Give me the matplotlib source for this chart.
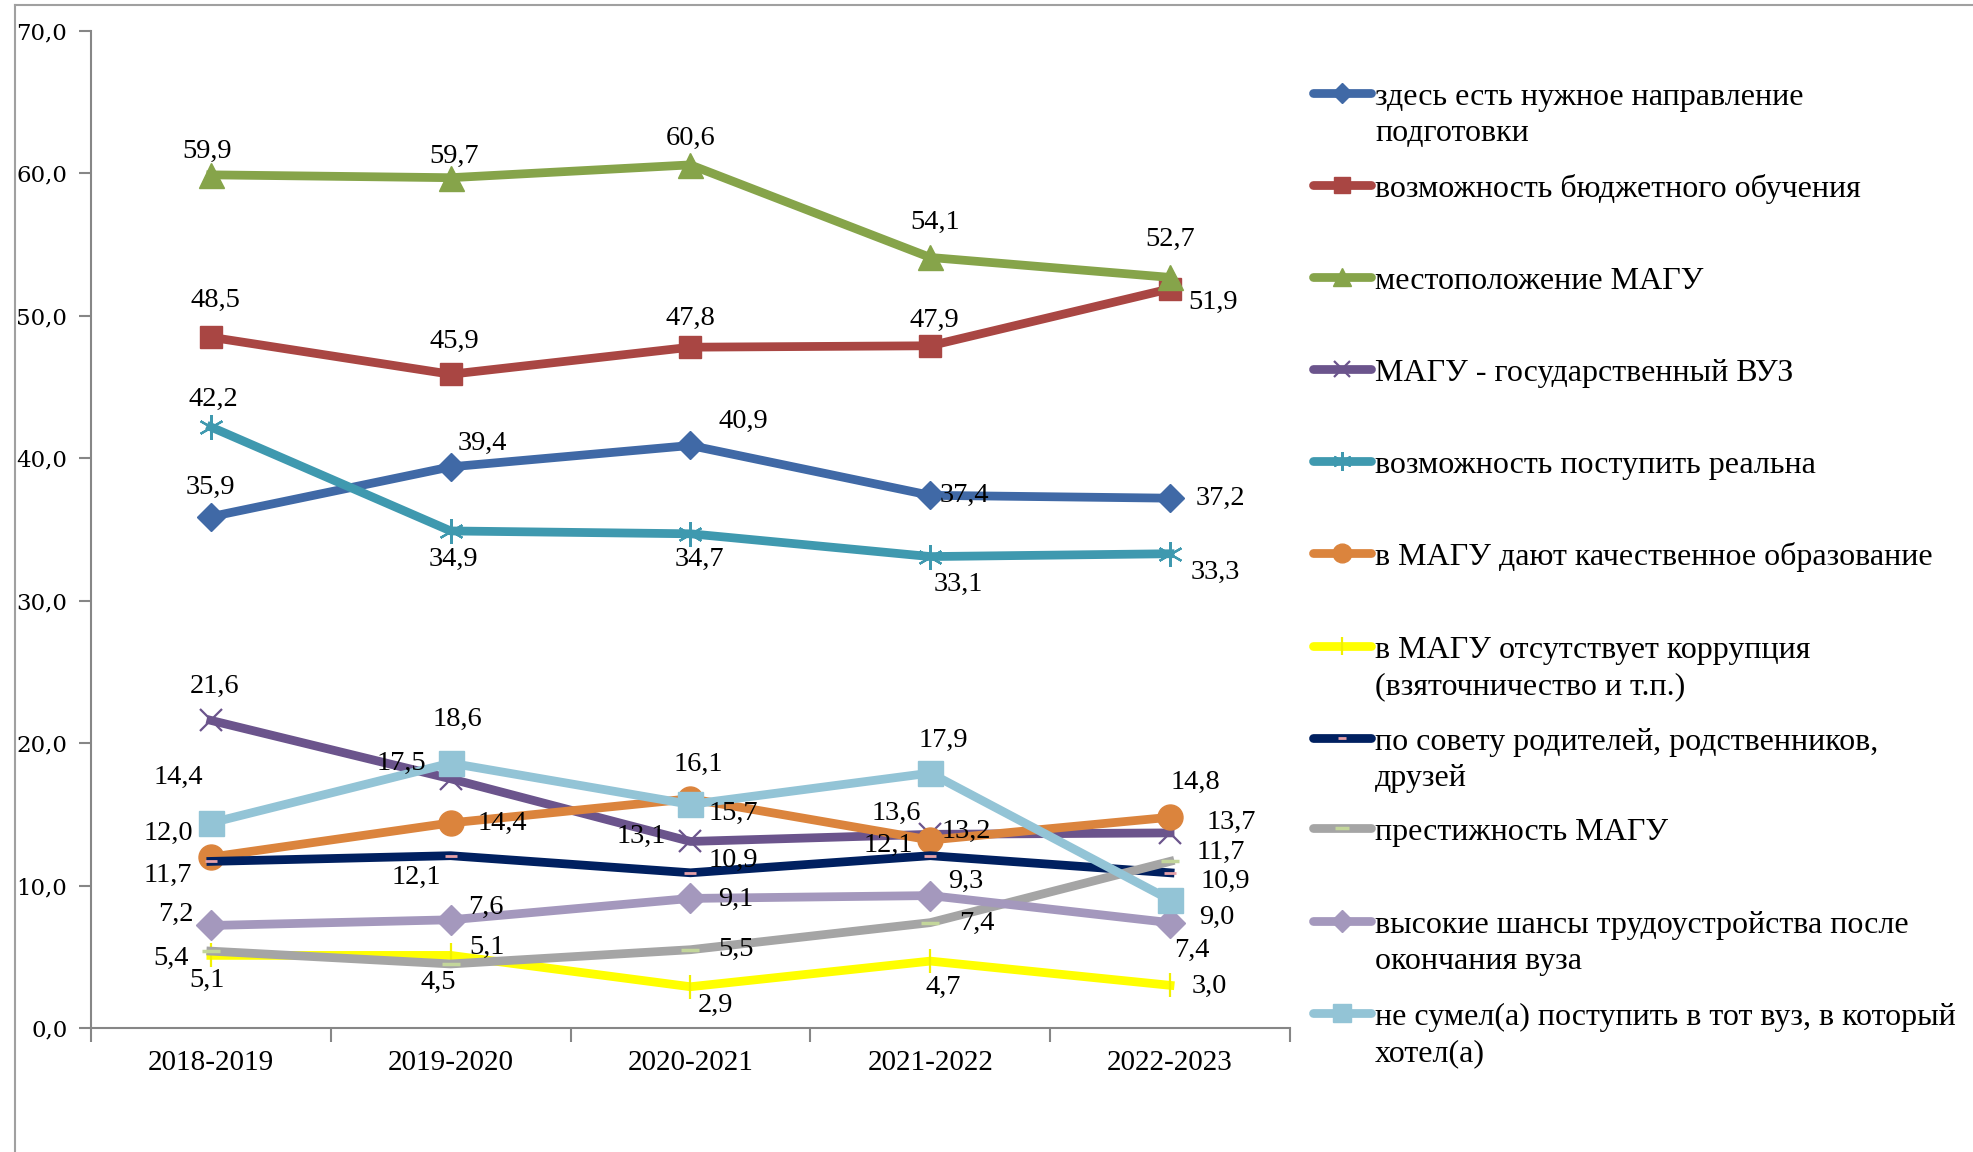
import numpy as np
import matplotlib.pyplot as plt
from matplotlib.lines import Line2D
from matplotlib.ticker import FuncFormatter, FixedLocator

# данные
years = ["2018-2019", "2019-2020", "2020-2021", "2021-2022", "2022-2023"]

names = [
    "здесь есть нужное направление\nподготовки",
    "возможность бюджетного обучения",
    "местоположение МАГУ",
    "МАГУ - государственный ВУЗ",
    "возможность поступить реальна",
    "в МАГУ дают качественное образование",
    "в МАГУ отсутствует коррупция\n(взяточничество и т.п.)",
    "по совету родителей, родственников,\nдрузей",
    "престижность МАГУ",
    "высокие шансы трудоустройства после\nокончания вуза",
    "не сумел(а) поступить в тот вуз, в который\nхотел(а)",
]

napravlenie = [35.9, 39.4, 40.9, 37.4, 37.2]
budzhet = [48.5, 45.9, 47.8, 47.9, 51.9]
mesto = [59.9, 59.7, 60.6, 54.1, 52.7]
gos_vuz = [21.6, 17.5, 13.1, 13.6, 13.7]
realno = [42.2, 34.9, 34.7, 33.1, 33.3]
kachestvo = [12.0, 14.4, 16.1, 13.2, 14.8]
korrupciya = [5.1, 5.1, 2.9, 4.7, 3.0]
sovet = [11.7, 12.1, 10.9, 12.1, 10.9]
prestizh = [5.4, 4.5, 5.5, 7.4, 11.7]
trudoustr = [7.2, 7.6, 9.1, 9.3, 7.4]
ne_sumel = [14.4, 18.6, 15.7, 17.9, 9.0]

series = [napravlenie, budzhet, mesto, gos_vuz, realno, kachestvo,
          korrupciya, sovet, prestizh, trudoustr, ne_sumel]

# стиль: цвет линии, маркер, размер, цвет маркера, толщина контура маркера
styles = [
    ("#4069A6", "D", 14, "#4069A6", 1),
    ("#A94643", "s", 16, "#A94643", 1),
    ("#86A44A", "^", 18, "#86A44A", 1),
    ("#6B548C", "x", 16, "#6B548C", 1.6),
    ("#3F99AF", (6, 2, 0), 18, "#3F99AF", 1.6),
    ("#DB843D", "o", 18, "#DB843D", 1),
    ("#FFFF00", "|", 17, "#F0F000", 1.6),
    ("#002060", "_", 8, "#E5A0A8", 2),
    ("#A5A5A5", "_", 13, "#C3D69B", 2.5),
    ("#A498BD", "D", 15, "#A498BD", 1),
    ("#93C4D6", "s", 18, "#93C4D6", 1),
]

# смещения подписей (в пикселях уменьшенного рисунка, y вниз)
offsets = [
    [(0, -23), (25, -19), (42, -19), (27, 0), (40, 0)],
    [(4, -29), (3, -26), (0, -23), (3, -20), (34, 11)],
    [(-3, -19), (3, -17), (0, -21), (4, -28), (0, -30)],
    [(3, -27), (-39, -12), (-39, -4), (-27, -17), (49, -8)],
    [(2, -22), (2, 23), (7, 20), (22, 22), (36, 15)],
    [(-34, -19), (41, 0), (6, -27), (29, -7), (20, -28)],
    [(-3, 20), (29, -6), (20, 15), (10, 21), (31, 1)],
    [(-34, 11), (-27, 17), (34, -10), (-33, -8), (44, 7)],
    [(-32, 6), (-10, 15), (36, 0), (37, 1), (40, -7)],
    [(-28, -9), (28, -10), (36, 1), (28, -11), (17, 22)],
    [(-26, -36), (5, -35), (34, 7), (10, -26), (37, 14)],
]
k = 1.258 * 72 / 100

plt.rcParams['font.family'] = ['Liberation Serif', 'DejaVu Serif']

fig = plt.figure(figsize=(19.73, 11.52), dpi=100)
ax = fig.add_axes([0.0461, 0.1076, 0.6077, 0.8655])

x = np.arange(len(years))
for vals, st, offs in zip(series, styles, offsets):
    col, mk, ms, mcol, mew = st
    ax.plot(x, vals, color=col, lw=6.3, marker=mk, ms=ms, mfc=mcol, mec=mcol,
            mew=mew, solid_joinstyle='round')
    for i, v in enumerate(vals):
        dx, dy = offs[i]
        ax.annotate(f"{v:.1f}".replace(".", ","), (x[i], v),
                    xytext=(dx * k, -dy * k), textcoords="offset points",
                    ha="center", va="center", fontsize=20.5, zorder=10)

ax.set_xlim(-0.5, 4.5)
ax.set_ylim(0, 70)
ax.set_xticks(x)
ax.set_xticklabels(years, fontsize=21)
ax.tick_params(axis="x", which="major", length=0, pad=16)
ax.xaxis.set_minor_locator(FixedLocator(np.arange(-0.5, 5, 1)))
ax.tick_params(axis="x", which="minor", length=10, width=1.5, color="#868686")
ax.set_yticks(np.arange(0, 71, 10))
ax.yaxis.set_major_formatter(FuncFormatter(lambda v, p: f"{v:.1f}".replace(".", ",")))
ax.tick_params(axis="y", length=9, width=1.5, color="#868686", pad=8)
for lab in ax.get_yticklabels():
    lab.set_fontfamily("DejaVu Serif")
    lab.set_fontsize(16.5)
for s in ["top", "right"]:
    ax.spines[s].set_visible(False)
for s in ["left", "bottom"]:
    ax.spines[s].set_color("#868686")
    ax.spines[s].set_linewidth(1.5)

# рамка области диаграммы
fig.add_artist(Line2D([15 / 1973, 15 / 1973], [0, 1 - 5 / 1152], color="#A0A0A0", lw=1.5))
fig.add_artist(Line2D([15 / 1973, 1], [1 - 5 / 1152, 1 - 5 / 1152], color="#A0A0A0", lw=1.5))

# легенда (каждая строка подписи отдельно, маркер у первой строки)
W, H = 1973, 1152
leg_y = [93, 185, 277, 369, 461, 553, 646, 738, 828, 921, 1013]
x0, x1, xt = 1313 / W, 1371 / W, 1375 / W
for nm, st, yp in zip(names, styles, leg_y):
    col, mk, ms, mcol, mew = st
    yf = 1 - yp / H
    fig.add_artist(Line2D([x0, (x0 + x1) / 2, x1], [yf, yf, yf], color=col, lw=6.3,
                          solid_capstyle="round", marker=mk, ms=ms * 0.75,
                          mfc=mcol, mec=mcol, mew=mew, markevery=[1]))
    for j, line in enumerate(nm.split("\n")):
        fig.text(xt, 1 - (yp + 12 + 36 * j) / H, line, fontsize=23,
                 va="baseline", ha="left")

fig.savefig("out.png", dpi=100)
